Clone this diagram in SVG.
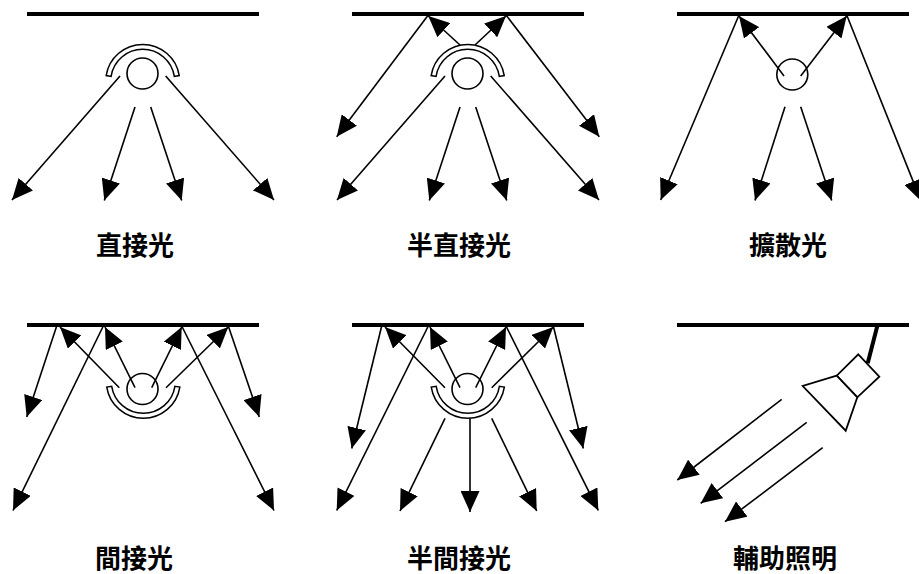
<svg xmlns="http://www.w3.org/2000/svg" width="919" height="574" viewBox="0 0 919 574">
<style>
.ceil{stroke:#000;stroke-width:4;fill:none}
.ray{stroke:#000;stroke-width:1.6;fill:none;marker-end:url(#ah)}
.bulb{fill:none;stroke:#000;stroke-width:1.6}
.shade{fill:#fff;stroke:#000;stroke-width:1.5;stroke-linejoin:miter}
.lamp{fill:#fff;stroke:#000;stroke-width:1.8;stroke-linejoin:miter}
.lbl{font-family:"Noto Sans CJK TC","Noto Sans CJK SC",sans-serif;font-weight:bold;font-size:26px;text-anchor:middle;fill:#000}
</style>
<defs>
<marker id="ah" markerUnits="userSpaceOnUse" markerWidth="21" markerHeight="19" viewBox="0 0 21 19" refX="21" refY="9.5" orient="auto">
<path d="M0,0 L21,9.5 L0,19 z" fill="#000"/>
</marker>
<path id="shadeUp" d="M106.16,75.61 A37,37 0 0 1 179.24,75.61 L174.31,76.39 A32,32 0 0 0 111.09,76.39 Z"/>
<path id="shadeDown" d="M106.76,387.09 A37,37 0 0 0 179.84,387.09 L174.91,386.31 A32,32 0 0 1 111.69,386.31 Z"/>
</defs>

<g id="connectors">
<!-- panel 1 -->
<line class="ray" x1="120" y1="76" x2="12" y2="200"/>
<line class="ray" x1="135" y1="107" x2="104.3" y2="200.5"/>
<line class="ray" x1="150.7" y1="107" x2="181.7" y2="200.5"/>
<line class="ray" x1="165.7" y1="76" x2="274" y2="200"/>
<!-- panel 2 -->
<line class="ray" x1="445" y1="76" x2="337" y2="200"/>
<line class="ray" x1="460" y1="107" x2="429.3" y2="200.5"/>
<line class="ray" x1="475.7" y1="107" x2="506.7" y2="200.5"/>
<line class="ray" x1="490.7" y1="76" x2="599" y2="200"/>
<line class="ray" x1="460" y1="45" x2="428.3" y2="16"/>
<line class="ray" x1="475" y1="45" x2="506" y2="16"/>
<line class="ray" x1="428.3" y1="15" x2="336.7" y2="136.7"/>
<line class="ray" x1="506" y1="15" x2="599.3" y2="136.7"/>
<!-- panel 3 -->
<line class="ray" x1="784" y1="76" x2="739" y2="16"/>
<line class="ray" x1="800.7" y1="76" x2="846.7" y2="16"/>
<line class="ray" x1="739" y1="15" x2="660.7" y2="200"/>
<line class="ray" x1="846.7" y1="15" x2="921" y2="201"/>
<line class="ray" x1="785" y1="106.7" x2="755" y2="200.5"/>
<line class="ray" x1="800.7" y1="106.7" x2="831.7" y2="200.5"/>
<!-- panel 4 -->
<line class="ray" x1="119.3" y1="387.7" x2="60" y2="327"/>
<line class="ray" x1="135" y1="387.7" x2="105" y2="327"/>
<line class="ray" x1="151.7" y1="387.7" x2="181.7" y2="327"/>
<line class="ray" x1="166" y1="387.7" x2="228.3" y2="327"/>
<line class="ray" x1="56.7" y1="326" x2="26.7" y2="417"/>
<line class="ray" x1="103.3" y1="326" x2="13" y2="510.5"/>
<line class="ray" x1="181.7" y1="326" x2="274" y2="510.5"/>
<line class="ray" x1="228.3" y1="326" x2="259.3" y2="417"/>
<!-- panel 5 -->
<line class="ray" x1="445" y1="387.7" x2="385" y2="327"/>
<line class="ray" x1="460" y1="387.7" x2="430" y2="327"/>
<line class="ray" x1="475.7" y1="387.7" x2="506" y2="327"/>
<line class="ray" x1="491.7" y1="387.7" x2="553.3" y2="327"/>
<line class="ray" x1="381.7" y1="326" x2="351.7" y2="448.5"/>
<line class="ray" x1="428.3" y1="326" x2="336.7" y2="510.5"/>
<line class="ray" x1="506" y1="326" x2="598.3" y2="510.5"/>
<line class="ray" x1="553.3" y1="326" x2="583.3" y2="448.5"/>
<line class="ray" x1="445" y1="418.3" x2="400" y2="511"/>
<line class="ray" x1="470" y1="418.3" x2="470" y2="512"/>
<line class="ray" x1="491.7" y1="418.3" x2="536.7" y2="511"/>
<!-- panel 6 -->
<line class="ray" x1="781.7" y1="399.3" x2="677.3" y2="480"/>
<line class="ray" x1="806.7" y1="422.3" x2="700.7" y2="503.3"/>
<line class="ray" x1="822.7" y1="447.7" x2="725" y2="521.7"/>
</g>

<g id="direct">
<line class="ceil" x1="27" y1="14" x2="259" y2="14"/>
<use href="#shadeUp" class="shade"/>
<circle class="bulb" cx="142.5" cy="73.5" r="15.5" style="fill:#fff"/>
<text class="lbl" x="135" y="255">直接光</text>
</g>

<g id="semi-direct">
<line class="ceil" x1="352" y1="14" x2="584" y2="14"/>
<use href="#shadeUp" class="shade" x="325"/>
<circle class="bulb" cx="467.5" cy="73.5" r="15.5" style="fill:#fff"/>
<text class="lbl" x="459" y="255">半直接光</text>
</g>

<g id="diffuse">
<line class="ceil" x1="677" y1="14" x2="909" y2="14"/>
<circle class="bulb" cx="792.3" cy="74.5" r="15.5"/>
<text class="lbl" x="788" y="255">擴散光</text>
</g>

<g id="indirect">
<line class="ceil" x1="27" y1="325" x2="259" y2="325"/>
<circle class="bulb" cx="142.5" cy="389" r="15.5"/>
<use href="#shadeDown" class="shade"/>
<text class="lbl" x="134" y="568">間接光</text>
</g>

<g id="semi-indirect">
<line class="ceil" x1="352" y1="325" x2="584" y2="325"/>
<circle class="bulb" cx="467.5" cy="389" r="15.5"/>
<use href="#shadeDown" class="shade" x="324.5"/>
<text class="lbl" x="459" y="568">半間接光</text>
</g>

<g id="spotlight">
<line class="ceil" x1="677" y1="325" x2="909" y2="325"/>
<line x1="877.3" y1="326" x2="867.7" y2="363.3" stroke="#000" stroke-width="4"/>
<polygon class="lamp" points="858.3,354.3 879.3,376.7 857.3,397.3 836.7,375.7"/>
<polygon class="lamp" points="836.7,375.7 802.7,386 845.7,430.7 857.3,397.3"/>
<text class="lbl" x="785" y="568">輔助照明</text>
</g>
</svg>
